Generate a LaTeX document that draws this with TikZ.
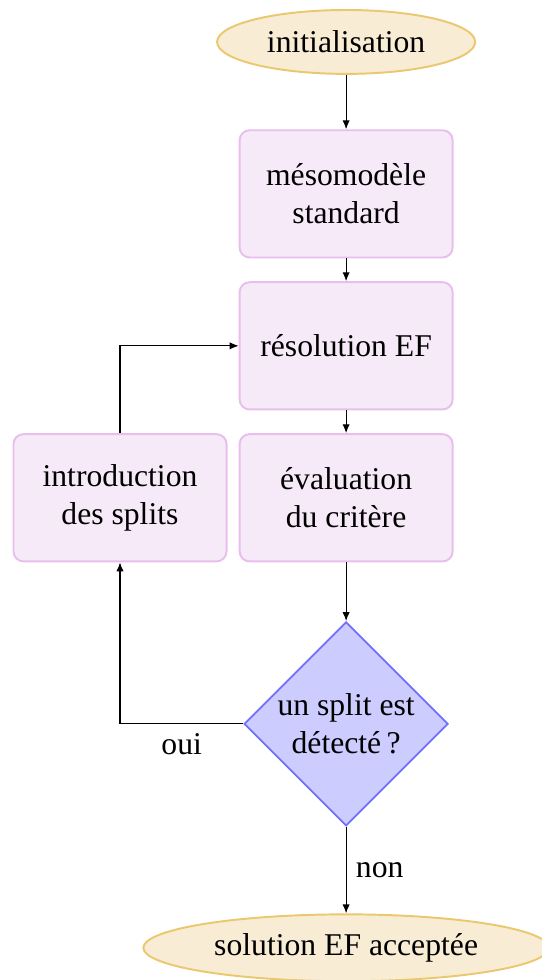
\documentclass[tikz,border=0pt]{standalone}
\usepackage{fontspec}
\setmainfont{Liberation Serif}
\usepackage{xcolor}
\usepackage{tikz}
\usetikzlibrary{positioning, shapes.geometric, arrows.meta}

\definecolor{blocfill}{RGB}{247,234,248}
\definecolor{blocdraw}{RGB}{232,190,236}
\definecolor{bornefill}{RGB}{248,236,212}
\definecolor{bornedraw}{RGB}{234,200,112}
\definecolor{testfill}{RGB}{204,204,255}
\definecolor{testdraw}{RGB}{112,112,250}

\begin{document}
\begin{tikzpicture}[node distance=54.7pt, font=\fontsize{11.4}{13.8}\selectfont,
  bloc/.style={rectangle, rounded corners=3.6pt, draw=blocdraw, line width=0.7pt, fill=blocfill, minimum width=76.7pt, minimum height=45.8pt, align=center},
  borne/.style={ellipse, draw=bornedraw, line width=0.7pt, fill=bornefill, minimum height=23pt, inner xsep=0pt, align=center},
  test/.style={diamond, draw=testdraw, line width=0.6pt, fill=testfill, minimum size=73.4pt, inner sep=0pt, align=center},
  fleche/.style={-{Latex[length=3.2pt, width=2.6pt]}, line width=0.4pt}]
  \useasboundingbox (0,0) rectangle (194.8pt,-352.8pt);

  \node[borne, minimum width=92.9pt] (init) at (124.6pt,-15.1pt) {initialisation};
  \node[bloc, below of=init] (meso) {mésomodèle\\standard};
  \node[bloc, below of=meso] (resol) {résolution EF};
  \node[bloc, below of=resol] (eval) {évaluation\\du critère};
  \node[bloc, left of=eval, node distance=81.4pt] (intro) {introduction\\des splits};
  \node[test, below of=eval, node distance=81.4pt] (split) {un split est\\détecté\,?};
  \node[borne, below of=split, node distance=80.6pt, minimum width=146pt] (fin) {solution EF acceptée};

  \draw[fleche] (init) -- (meso);
  \draw[fleche] (meso) -- (resol);
  \draw[fleche] (resol) -- (eval);
  \draw[fleche] (eval) -- (split);
  \draw[fleche] (split) -- node[right] {non} (fin);
  \draw[fleche] (split) -| node[below, pos=0.25] {oui} (intro);
  \draw[fleche] (intro) |- (resol);
\end{tikzpicture}
\end{document}
